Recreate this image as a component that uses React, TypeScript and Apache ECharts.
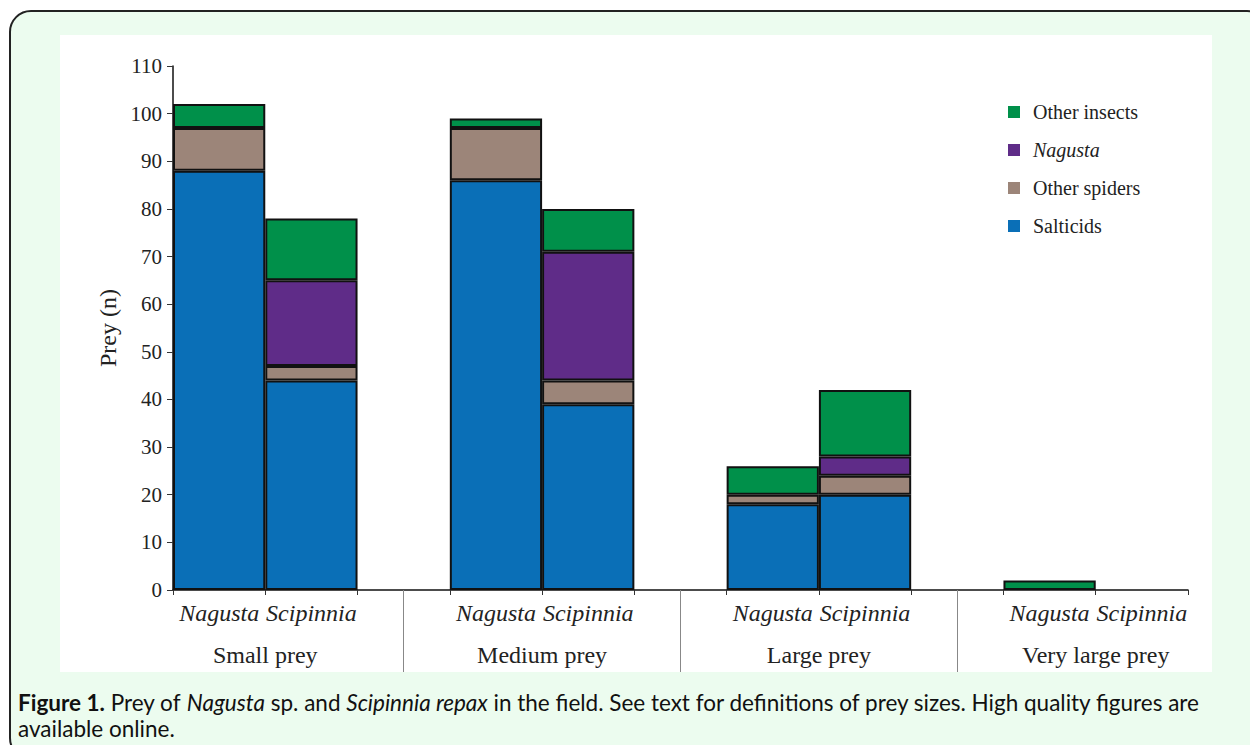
import React, { useEffect, useRef } from "react";
import * as echarts from "echarts";

const groups = ["Small prey", "Medium prey", "Large prey", "Very large prey"];
const species = ["Nagusta", "Scipinnia"];
// values per bar, order: Small-Nagusta, Small-Scipinnia, Medium-N, Medium-S, Large-N, Large-S, VeryLarge-N, VeryLarge-S
const salticids = [88, 44, 86, 39, 18, 20, 0, 0];
const otherSpiders = [9, 3, 11, 5, 2, 4, 0, 0];
const nagustaPrey = [0, 18, 0, 27, 0, 4, 0, 0];
const otherInsects = [5, 13, 2, 9, 6, 14, 2, 0];
const yTicks = { min: 0, max: 110, interval: 10 };
const legendOrder = ["Other insects", "Nagusta", "Other spiders", "Salticids"];

const COLORS = {
  Salticids: "#0a6fb7",
  "Other spiders": "#9c8579",
  Nagusta: "#5f2c88",
  "Other insects": "#00904a",
};

const SERIF = "'Liberation Serif', 'Times New Roman', serif";
const SANS = "Lato, 'Open Sans', sans-serif";

export default function App() {
  const ref = useRef<HTMLDivElement>(null);

  useEffect(() => {
    if (!ref.current) return;
    const chart = echarts.init(ref.current, undefined, { renderer: "svg" });

    const slotKeys: string[] = [];
    const barIndexBySlot: (number | null)[] = [];
    groups.forEach((g, gi) => {
      species.forEach((s, si) => {
        slotKeys.push(g + "|" + s);
        barIndexBySlot.push(gi * 2 + si);
      });
      if (gi < groups.length - 1) {
        slotKeys.push("gap" + gi);
        barIndexBySlot.push(null);
      }
    });

    const toSlots = (arr: number[]) =>
      barIndexBySlot.map((bi) => {
        if (bi === null) return null;
        const v = arr[bi];
        return v === 0 ? null : v;
      });

    const halfCount = slotKeys.length * 2 + 1;
    const halfKeys = Array.from({ length: halfCount }, (_, i) => "h" + i);
    const groupLabelAt: Record<number, string> = {};
    groups.forEach((g, gi) => {
      groupLabelAt[2 + 6 * gi] = g;
    });
    const isSeparator = (i: number) => i % 6 === 5 && i < halfCount - 1;

    const seriesDefs: [string, number[]][] = [
      ["Salticids", salticids],
      ["Other spiders", otherSpiders],
      ["Nagusta", nagustaPrey],
      ["Other insects", otherInsects],
    ];

    const CAP = 22.5;
    const capStyle = (text: string) => ({
      text,
      fontFamily: SANS,
      fontSize: CAP,
      fill: "#111",
      rich: {
        b: { fontFamily: SANS, fontSize: CAP, fontWeight: "bold", fill: "#111" },
        i: { fontFamily: SANS, fontSize: CAP, fontStyle: "italic", fill: "#111" },
      },
    });

    chart.setOption({
      animation: false,
      grid: { left: 173, right: 62, top: 66, bottom: 155, containLabel: false },
      legend: {
        data: legendOrder,
        orient: "vertical",
        left: 1003,
        top: 97,
        itemWidth: 12,
        itemHeight: 12,
        itemGap: 18,
        icon: "rect",
        itemStyle: { borderWidth: 0 },
        formatter: (name: string) => (name === "Nagusta" ? "{i|Nagusta}" : name),
        textStyle: {
          fontFamily: SERIF,
          fontSize: 20,
          color: "#222",
          padding: [0, 0, 0, 8],
          rich: { i: { fontFamily: SERIF, fontSize: 20, fontStyle: "italic", color: "#222" } },
        },
      },
      xAxis: [
        {
          type: "category",
          data: slotKeys,
          boundaryGap: true,
          axisLine: { lineStyle: { color: "#111", width: 1.5 } },
          axisTick: { show: true, length: 5, lineStyle: { color: "#333" } },
          axisLabel: {
            interval: 0,
            margin: 11,
            fontFamily: SERIF,
            fontStyle: "italic",
            fontSize: 24,
            color: "#222",
            formatter: (v: string) => (v.indexOf("|") >= 0 ? v.split("|")[1] : ""),
          },
        },
        {
          type: "category",
          data: halfKeys,
          boundaryGap: false,
          position: "bottom",
          axisLine: { show: false },
          axisTick: {
            show: true,
            length: 82,
            interval: (i: number) => isSeparator(i),
            lineStyle: { color: "#888", width: 1 },
          },
          axisLabel: {
            show: true,
            interval: (i: number) => groupLabelAt[i] !== undefined,
            margin: 53,
            fontFamily: SERIF,
            fontSize: 24,
            color: "#222",
            formatter: (_v: string, i: number) => groupLabelAt[i] || "",
          },
        },
      ],
      yAxis: {
        type: "value",
        min: yTicks.min,
        max: yTicks.max,
        interval: yTicks.interval,
        name: "Prey (n)",
        nameLocation: "middle",
        nameGap: 52,
        nameRotate: 90,
        nameTextStyle: { fontFamily: SERIF, fontSize: 24, color: "#222" },
        axisLine: { show: true, lineStyle: { color: "#111", width: 1.5 } },
        axisTick: { show: true, length: 6, lineStyle: { color: "#333" } },
        splitLine: { show: false },
        axisLabel: { margin: 11, fontFamily: SERIF, fontSize: 21, color: "#222" },
      },
      series: seriesDefs.map(([name, arr]) => ({
        name,
        type: "bar",
        stack: "prey",
        xAxisIndex: 0,
        barWidth: "100%",
        data: toSlots(arr),
        itemStyle: {
          color: (COLORS as any)[name],
          borderColor: "#111",
          borderWidth: 2,
        },
        emphasis: { disabled: true },
      })),
      graphic: [
        {
          type: "text",
          left: 18,
          top: 691,
          style: capStyle(
            "{b|Figure 1.} Prey of {i|Nagusta} sp. and {i|Scipinnia repax} in the field. See text for definitions of prey sizes. High quality figures are"
          ),
        },
        {
          type: "text",
          left: 18,
          top: 717,
          style: capStyle("available online."),
        },
      ],
    });

    return () => chart.dispose();
  }, []);

  return (
    <div
      style={{
        position: "absolute",
        left: 0,
        top: 0,
        width: 1250,
        height: 745,
        overflow: "hidden",
        background: "#ffffff",
      }}
    >
      <div
        style={{
          position: "absolute",
          left: 9,
          top: 10,
          width: 1260,
          height: 750,
          border: "2px solid #222",
          borderRadius: 22,
          background: "#ecfcef",
          boxSizing: "border-box",
        }}
      />
      <div
        style={{
          position: "absolute",
          left: 60,
          top: 35,
          width: 1152,
          height: 637,
          background: "#ffffff",
        }}
      />
      <div ref={ref} style={{ position: "absolute", left: 0, top: 0, width: 1250, height: 745 }} />
    </div>
  );
}
